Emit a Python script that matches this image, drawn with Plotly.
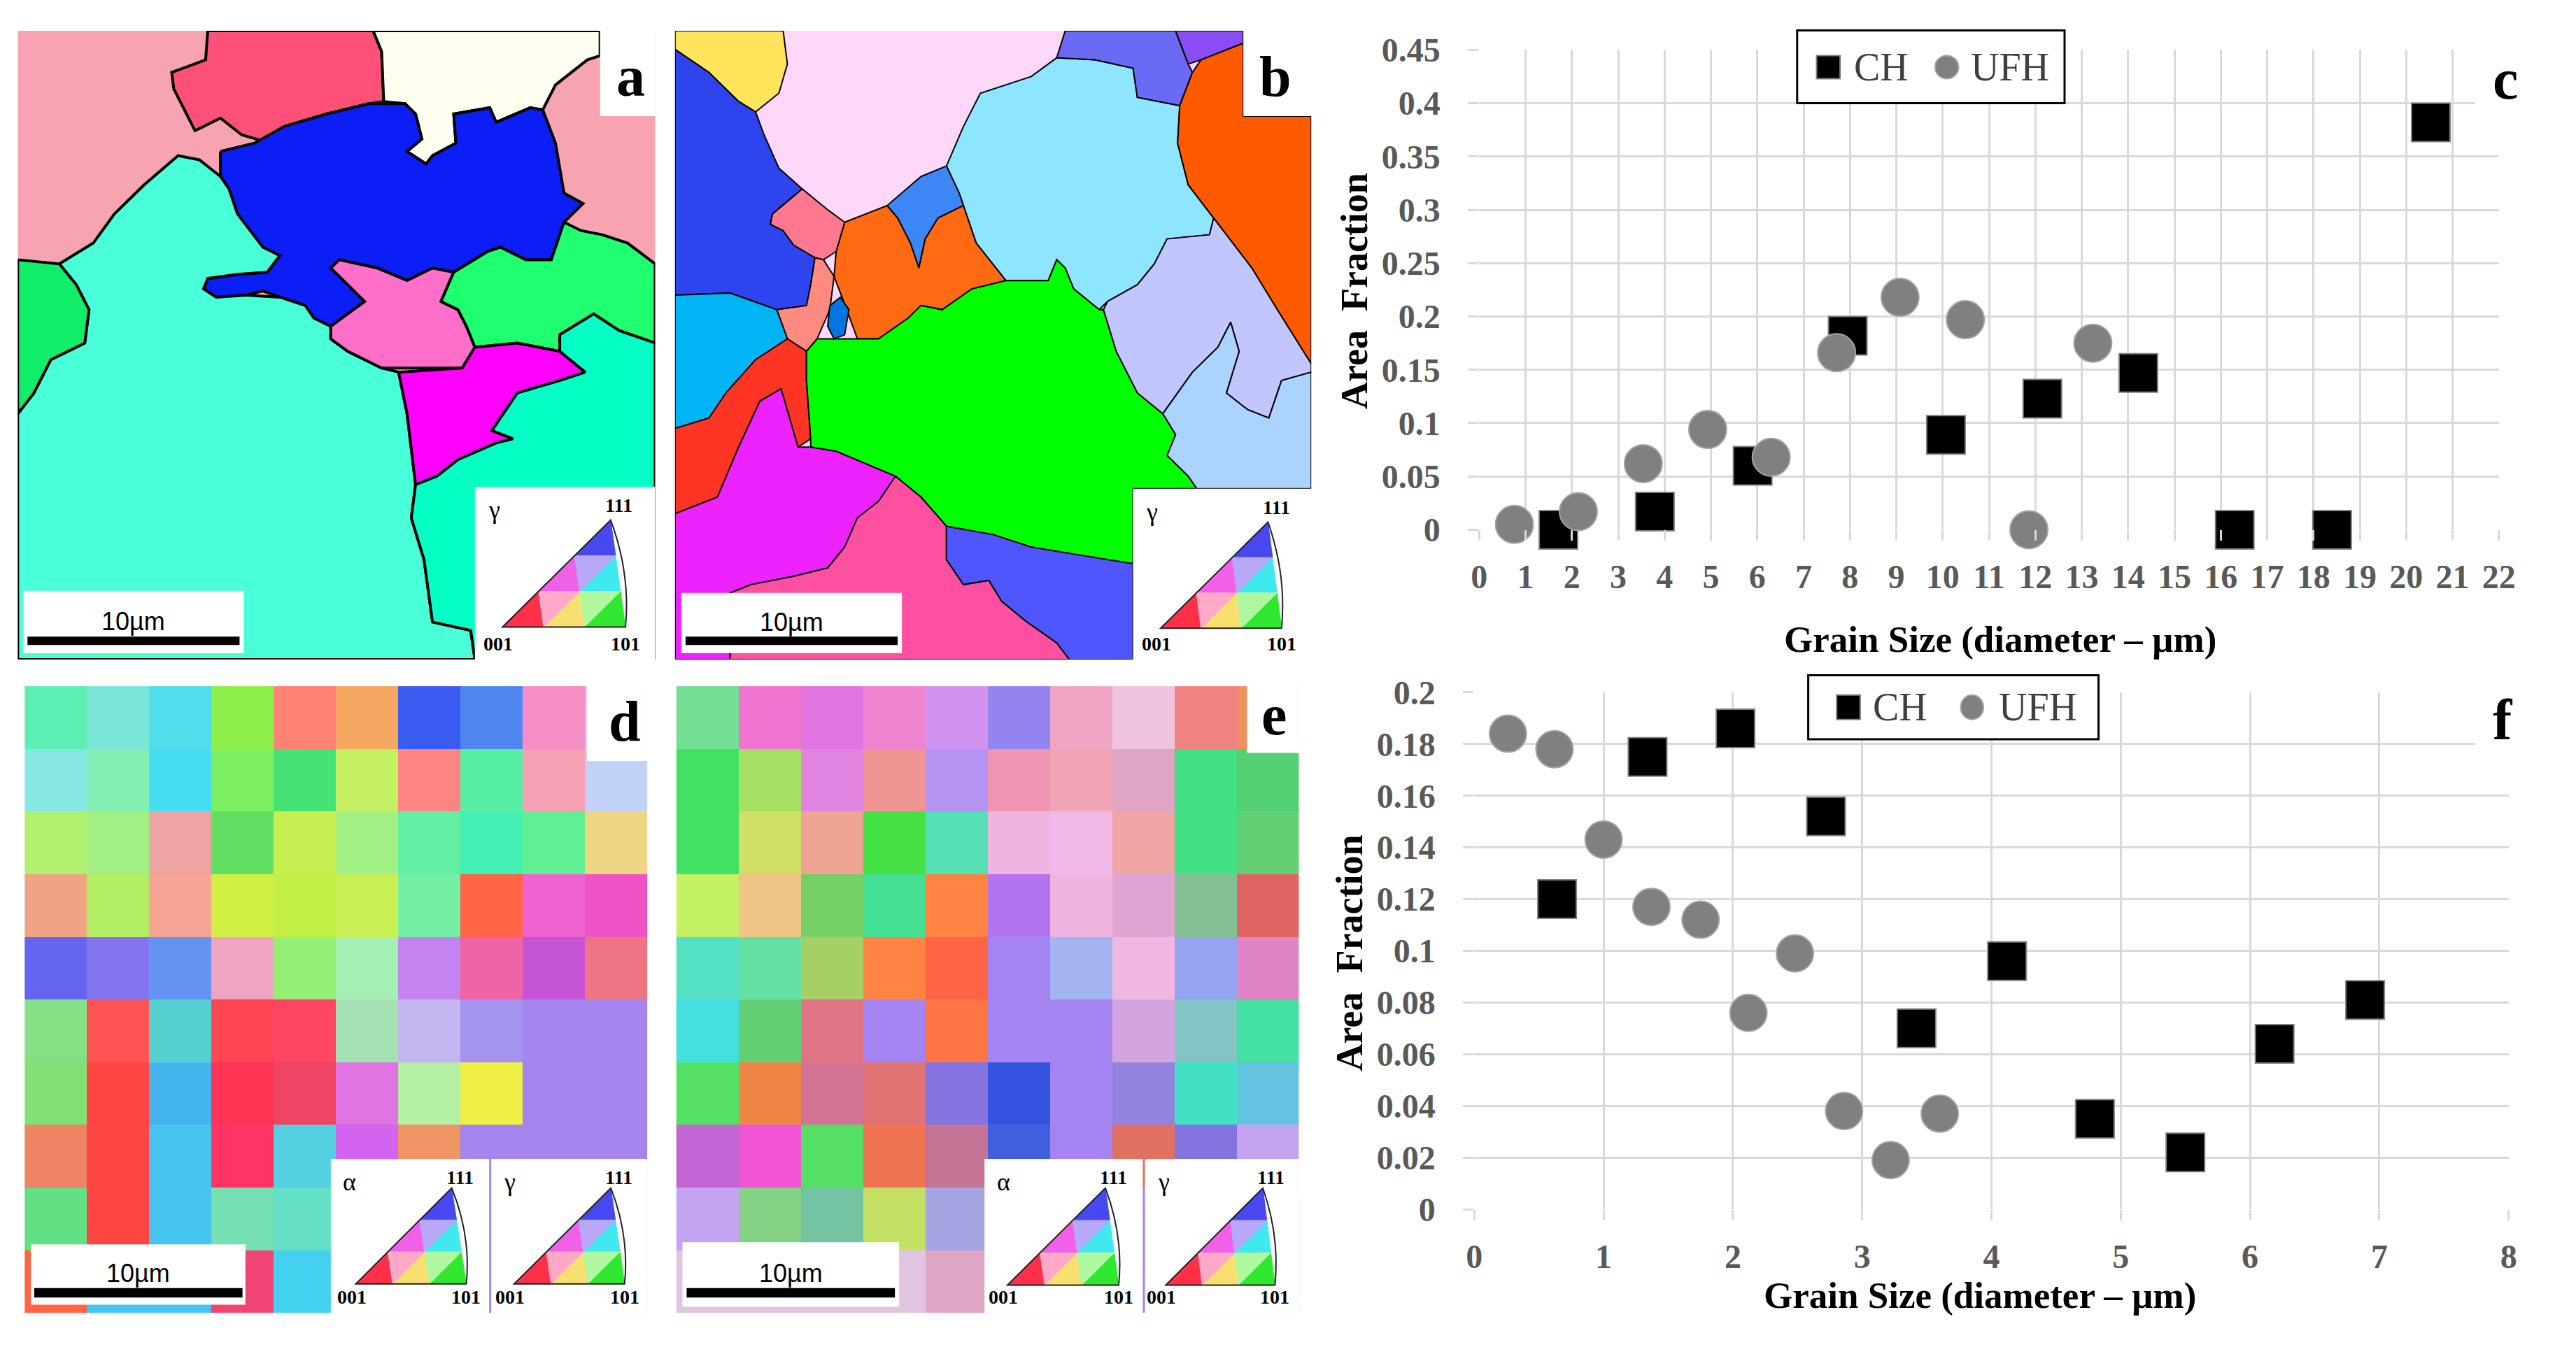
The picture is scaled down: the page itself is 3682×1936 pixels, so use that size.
import plotly.graph_objects as go

W, H = 3682, 1936

# ---------------- panel c : grain size distribution, CH vs UFH ----------------
c_xticks = list(range(0, 23))
c_yticks = [0, 0.05, 0.1, 0.15, 0.2, 0.25, 0.3, 0.35, 0.4, 0.45]
c_ytext = ["0", "0.05", "0.1", "0.15", "0.2", "0.25", "0.3", "0.35", "0.4", "0.45"]
c_ch_x = [1.71, 3.79, 5.9, 7.95, 10.07, 12.15, 14.22, 16.3, 18.4, 20.53]
c_ch_y = [0.0, 0.017, 0.060, 0.182, 0.089, 0.123, 0.147, 0.0, 0.0, 0.382]
c_ufh_x = [0.76, 2.14, 3.54, 4.93, 6.3, 7.71, 9.08, 10.49, 11.86, 13.24]
c_ufh_y = [0.005, 0.017, 0.062, 0.094, 0.068, 0.166, 0.218, 0.197, 0.0, 0.175]

# ---------------- panel f ----------------
f_xticks = list(range(0, 9))
f_yticks = [0, 0.02, 0.04, 0.06, 0.08, 0.1, 0.12, 0.14, 0.16, 0.18, 0.2]
f_ytext = ["0", "0.02", "0.04", "0.06", "0.08", "0.1", "0.12", "0.14", "0.16", "0.18", "0.2"]
f_ch_x = [0.64, 1.34, 2.02, 2.72, 3.42, 4.12, 4.80, 5.50, 6.19, 6.89]
f_ch_y = [0.120, 0.175, 0.186, 0.152, 0.070, 0.096, 0.035, 0.022, 0.064, 0.081]
f_ufh_x = [0.26, 0.62, 1.0, 1.37, 1.75, 2.12, 2.48, 2.86, 3.22, 3.60]
f_ufh_y = [0.184, 0.178, 0.143, 0.117, 0.112, 0.076, 0.099, 0.038, 0.019, 0.037]

# ---------------- panel a : coarse grain map (grain outlines in map units) ----------------
a_base = [(22, 30), (1525, 30), (1525, 1540), (22, 1540)]
a_red = [(470, 30), (860, 30), (880, 80), (885, 200), (850, 205), (750, 230), (650, 260), (600, 295),
         (550, 280), (500, 240), (440, 270), (410, 210), (390, 170), (385, 130), (465, 100)]
a_cream = [(860, 30), (1395, 30), (1395, 90), (1365, 100), (1290, 160), (1260, 220), (1230, 215),
           (1150, 250), (1135, 215), (1050, 230), (1055, 300), (1000, 330), (985, 350), (940, 320),
           (975, 290), (960, 230), (935, 205), (885, 200), (880, 80)]
a_blue = [(500, 320), (580, 300), (650, 260), (750, 230), (850, 205), (935, 205), (960, 230), (975, 290),
          (940, 320), (985, 350), (1000, 330), (1055, 300), (1050, 230), (1135, 215), (1150, 250),
          (1230, 215), (1260, 220), (1290, 300), (1310, 420), (1355, 445), (1310, 490), (1280, 580),
          (1220, 580), (1160, 550), (1130, 560), (1050, 610), (1000, 600), (940, 630), (870, 600),
          (780, 580), (760, 600), (840, 680), (800, 710), (760, 740), (720, 720), (700, 690), (640, 670),
          (600, 655), (560, 665), (490, 670), (460, 650), (470, 625), (540, 615), (610, 610), (640, 570),
          (600, 550), (540, 470), (520, 410), (500, 380)]
a_mint = [(22, 1540), (22, 950), (60, 900), (100, 820), (180, 780), (190, 700), (160, 640), (120, 590),
          (200, 540), (250, 470), (320, 400), (400, 330), (450, 340), (500, 380), (520, 410), (540, 470),
          (600, 550), (640, 570), (610, 610), (540, 615), (470, 625), (460, 650), (490, 670), (560, 665),
          (640, 670), (700, 690), (720, 720), (760, 740), (760, 770), (800, 800), (880, 840), (920, 850),
          (940, 950), (960, 1120), (950, 1200), (980, 1300), (1000, 1450), (1090, 1470), (1100, 1540)]
a_green_left = [(22, 580), (120, 590), (160, 640), (190, 700), (180, 780), (100, 820), (60, 900), (22, 950)]
a_pink = [(760, 600), (780, 580), (870, 600), (940, 630), (1000, 600), (1050, 610), (1020, 680), (1060, 700),
          (1080, 740), (1100, 790), (1070, 840), (920, 840), (880, 840), (800, 800), (760, 770), (760, 740),
          (800, 710), (840, 680)]
a_green_right = [(1020, 680), (1050, 610), (1130, 560), (1160, 550), (1220, 580), (1280, 580), (1310, 490),
                 (1350, 510), (1400, 520), (1460, 540), (1525, 590), (1525, 780), (1440, 750), (1380, 710),
                 (1300, 760), (1300, 800), (1200, 780), (1100, 790), (1080, 740), (1060, 700)]
a_magenta = [(920, 850), (1070, 840), (1100, 790), (1200, 780), (1300, 800), (1360, 850), (1300, 870),
             (1200, 900), (1140, 990), (1190, 1010), (1150, 1020), (1060, 1060), (1010, 1100), (960, 1120),
             (940, 950)]
a_mint_right = [(960, 1120), (1010, 1100), (1060, 1060), (1150, 1020), (1190, 1010), (1140, 990), (1200, 900),
                (1300, 870), (1360, 850), (1300, 800), (1300, 760), (1380, 710), (1440, 750), (1525, 780),
                (1525, 1540), (1100, 1540), (1090, 1470), (1000, 1450), (980, 1300), (950, 1200)]
a_grains = [(a_base, "#F8A3B0"), (a_red, "#FF5078"), (a_cream, "#FFFFF0"), (a_blue, "#0A1EF5"),
            (a_mint, "#48FFD8"), (a_green_left, "#10EE6A"), (a_pink, "#FF6EC8"),
            (a_green_right, "#20FF70"), (a_magenta, "#FF00FF"), (a_mint_right, "#05FFC5")]

# ---------------- panel b ----------------
b_base = [(20, 30), (1520, 30), (1520, 1540), (20, 1540)]
b_yellow = [(20, 30), (275, 30), (285, 110), (265, 180), (210, 225), (170, 200), (100, 130), (20, 75)]
b_blue = [(20, 75), (100, 130), (170, 200), (210, 225), (230, 280), (265, 360), (320, 410), (250, 470),
          (245, 495), (275, 510), (300, 545), (350, 575), (340, 640), (330, 690), (260, 700), (150, 660),
          (20, 665)]
b_cyan = [(660, 355), (700, 260), (740, 180), (800, 160), (860, 140), (920, 95), (1010, 100), (1100, 120),
          (1110, 190), (1210, 210), (1205, 300), (1230, 400), (1290, 480), (1280, 520), (1180, 530),
          (1150, 590), (1110, 640), (1040, 680), (1020, 700), (960, 650), (940, 600), (920, 580), (900, 630),
          (800, 630), (730, 540), (700, 450), (690, 420)]
b_violet = [(940, 30), (1200, 30), (1230, 110), (1240, 130), (1210, 210), (1110, 190), (1100, 120),
            (1010, 100), (920, 95)]
b_purple = [(1200, 30), (1360, 30), (1360, 60), (1260, 100), (1230, 110)]
b_orange = [(1260, 100), (1360, 60), (1360, 235), (1520, 235), (1520, 830), (1440, 700), (1380, 600),
            (1290, 480), (1230, 400), (1205, 300), (1210, 210), (1240, 130)]
b_lavender = [(1290, 480), (1380, 600), (1440, 700), (1520, 830), (1520, 850), (1450, 870), (1420, 960),
              (1370, 940), (1320, 900), (1350, 800), (1330, 730), (1300, 790), (1240, 850), (1170, 950),
              (1110, 900), (1060, 800), (1030, 700), (1040, 680), (1110, 640), (1150, 590), (1180, 530),
              (1280, 520)]
b_sky = [(1170, 950), (1240, 850), (1300, 790), (1330, 730), (1350, 800), (1320, 900), (1370, 940),
         (1420, 960), (1450, 870), (1520, 850), (1520, 1130), (1250, 1130), (1230, 1100), (1180, 1050),
         (1200, 1000)]
b_steel = [(520, 450), (600, 380), (660, 355), (690, 420), (700, 450), (640, 480), (610, 530), (595, 600),
           (575, 540), (545, 480)]
b_orange_mid = [(420, 490), (520, 450), (545, 480), (575, 540), (595, 600), (610, 530), (640, 480),
                (700, 450), (730, 540), (800, 630), (720, 650), (650, 700), (600, 690), (570, 720),
                (500, 770), (450, 770), (425, 700), (395, 620), (400, 560)]
b_salmon = [(250, 470), (320, 410), (380, 460), (420, 490), (400, 560), (370, 580), (350, 575), (300, 545),
            (275, 510), (245, 495)]
b_salmon2 = [(350, 575), (370, 580), (395, 620), (385, 700), (355, 770), (330, 800), (285, 770), (260, 700),
             (330, 690), (340, 640)]
b_azure = [(20, 665), (150, 660), (260, 700), (285, 770), (210, 820), (140, 900), (100, 960), (20, 985)]
b_red = [(20, 985), (100, 960), (140, 900), (210, 820), (285, 770), (330, 800), (330, 870), (340, 1010),
         (310, 1030), (270, 890), (220, 920), (170, 1030), (120, 1150), (20, 1190)]
b_green = [(330, 800), (355, 770), (450, 770), (500, 770), (570, 720), (600, 690), (650, 700), (720, 650),
           (800, 630), (900, 630), (920, 580), (940, 600), (960, 650), (1020, 700), (1030, 700), (1060, 800),
           (1110, 900), (1170, 950), (1200, 1000), (1180, 1050), (1230, 1100), (1250, 1130), (1100, 1130),
           (1100, 1310), (980, 1290), (860, 1270), (770, 1240), (660, 1220), (600, 1150), (540, 1100),
           (470, 1070), (400, 1040), (340, 1030), (340, 1010), (330, 870)]
b_magenta = [(20, 1190), (120, 1150), (170, 1030), (220, 920), (270, 890), (310, 1030), (340, 1030),
             (400, 1040), (470, 1070), (540, 1100), (500, 1160), (450, 1200), (420, 1270), (380, 1320),
             (300, 1340), (200, 1360), (150, 1380), (150, 1540), (20, 1540)]
b_rose = [(540, 1100), (600, 1150), (660, 1220), (660, 1300), (700, 1360), (760, 1350), (790, 1400),
          (850, 1450), (920, 1500), (950, 1540), (150, 1540), (150, 1380), (200, 1360), (300, 1340),
          (380, 1320), (420, 1270), (450, 1200), (500, 1160)]
b_indigo = [(660, 1220), (770, 1240), (860, 1270), (980, 1290), (1100, 1310), (1100, 1540), (950, 1540),
            (920, 1500), (850, 1450), (790, 1400), (760, 1350), (700, 1360), (660, 1300)]
b_small_blue = [(385, 690), (410, 670), (430, 700), (420, 760), (395, 770), (380, 740)]
b_grains = [(b_base, "#FFD7F8"), (b_yellow, "#FFE45C"), (b_blue, "#2E44EE"), (b_cyan, "#8DE5FF"),
            (b_violet, "#6A6AF5"), (b_purple, "#8A4CF5"), (b_orange, "#FF5A00"), (b_lavender, "#C2C6FF"),
            (b_sky, "#AAD4FF"), (b_steel, "#3C86F5"), (b_orange_mid, "#FF6A12"), (b_salmon, "#FF7890"),
            (b_salmon2, "#FF8A80"), (b_azure, "#00B4F5"), (b_red, "#FF3424"), (b_green, "#00FF00"),
            (b_magenta, "#EE22FF"), (b_rose, "#FF4FA0"), (b_indigo, "#5056FF"), (b_small_blue, "#0077E0")]

# ---------------- panel d : fine duplex map, dominant colour per block ----------------
d_rows = [
    ["#5EEFB4", "#7AE6D8", "#52DDEB", "#8FEF4A", "#FF8274", "#F6A862", "#3A5CF0", "#4F86F0", "#F58EC4", "#C8D4F6"],
    ["#86E6E2", "#84EFB4", "#44DEF0", "#7CEF62", "#46E274", "#C6F064", "#FF8484", "#56EFA4", "#F6A2B4", "#C0D0F6"],
    ["#B2F070", "#A2EF84", "#EFA4A4", "#62DE62", "#C6F052", "#A2EF84", "#62EFA4", "#44EFB4", "#62EF94", "#EFD484"],
    ["#EFA484", "#B2EF62", "#F6A494", "#D0EF44", "#C2EF44", "#C8F054", "#74EFA4", "#FF6444", "#EF62D0", "#EF52C2"],
    ["#6464EF", "#8474EF", "#6494EF", "#EFA4C4", "#94EF74", "#A4EFB4", "#C484EF", "#EF64A4", "#C454D4", "#EF7484"],
    ["#84E084", "#FF5454", "#54D0D0", "#FF4454", "#FF4464", "#A4E0B4", "#C4B4EF", "#A494EF", "#A484EF", "#A484EF"],
    ["#84E074", "#FF4444", "#44B4EF", "#FF3454", "#EF4464", "#E074E0", "#B4EFA4", "#EFEF44", "#A484EF", "#A484EF"],
    ["#EF8464", "#FF4444", "#44C4EF", "#FF3464", "#54D0E0", "#D464EF", "#EF9464", "#A484EF", "#A484EF", "#A484EF"],
    ["#64E084", "#FF4444", "#44C4EF", "#74E0B4", "#64E0C4", "#D464EF", "#A484EF", "#A484EF", "#A484EF", "#A484EF"],
    ["#FF6444", "#44C4EF", "#44C4EF", "#EF4474", "#44D0EF", "#A484EF", "#A484EF", "#A484EF", "#A484EF", "#A484EF"],
]

# ---------------- panel e ----------------
e_rows = [
    ["#74E094", "#F074D0", "#E074E0", "#F084D0", "#D094F0", "#9484F0", "#F0A4C4", "#F0C4E0", "#F08484", "#F09060"],
    ["#44E064", "#A4E064", "#E084E0", "#F09494", "#B494F0", "#F094B4", "#F0A4B4", "#E0A4C4", "#44E084", "#54D074"],
    ["#44E064", "#D0E064", "#F0A494", "#44E044", "#54E0B4", "#F0B4E0", "#F0B8E8", "#F0A4A4", "#44E084", "#64D074"],
    ["#C4F064", "#F0C484", "#74D064", "#44E094", "#FF8444", "#B474F0", "#F0B4E0", "#E0A4D4", "#84C094", "#E06464"],
    ["#54E0C4", "#64E0A4", "#A4D064", "#FF8444", "#FF6444", "#A484F0", "#A4B4F0", "#F0B8E0", "#94A4F0", "#E084C4"],
    ["#44E0E0", "#64D074", "#E07484", "#A484F0", "#FF7444", "#A484F0", "#A484F0", "#D4A4E0", "#84C4C4", "#44E0A4"],
    ["#54E064", "#F08444", "#D47494", "#E07474", "#8474E0", "#3454E0", "#A484F0", "#9484E0", "#44E0C4", "#64C4E0"],
    ["#C464D4", "#F054D4", "#54E064", "#F07454", "#C47494", "#4060E0", "#A484F0", "#E07060", "#8474E0", "#C4A4F0"],
    ["#C4A4F0", "#84D084", "#74C4A4", "#C4E064", "#A4A4E0", "#A484F0", "#A484F0", "#A484F0", "#A484F0", "#A484F0"],
    ["#E0C4E0", "#E0C4E0", "#E0C4E0", "#E0C4E0", "#E0A4C4", "#A484F0", "#A484F0", "#A484F0", "#A484F0", "#A484F0"],
]

# IPF colour key sub-triangle colours
key_colors = ["#FF3048", "#F8E070", "#F060E8", "#30E830", "#40E8F0", "#4848F0", "#FFA8C8", "#B0F8A0", "#B8A8F8"]

SERIF = "Liberation Serif"
SANS = "Liberation Sans"
GRID = "#D9D9D9"


def hex_rgb(h):
    return [int(h[1:3], 16), int(h[3:5], 16), int(h[5:7], 16)]


def poly(pts, color, xa, ya, lw):
    xs = [p[0] for p in pts] + [pts[0][0]]
    ys = [p[1] for p in pts] + [pts[0][1]]
    return go.Scatter(x=xs, y=ys, mode="lines", fill="toself", fillcolor=color,
                      line=dict(color="black", width=lw), xaxis=xa, yaxis=ya,
                      hoverinfo="skip", showlegend=False)


fig = go.Figure()

for pts, col in a_grains:
    fig.add_trace(poly(pts, col, "x3", "y3", 0 if pts is a_base else 4))
for pts, col in b_grains:
    fig.add_trace(poly(pts, col, "x4", "y4", 0 if pts is b_base else 2))

# duplex maps as block images
for rows, xa, ya, x0, x1, y0, y1 in [(d_rows, "x5", "y5", 25, 1520, 10, 1515),
                                       (e_rows, "x6", "y6", 10, 1505, 10, 1515)]:
    dx = (x1 - x0) / len(rows[0])
    dy = (y1 - y0) / len(rows)
    fig.add_trace(go.Image(z=[[hex_rgb(c) for c in r] for r in rows], x0=x0 + dx / 2, dx=dx,
                           y0=y0 + dy / 2, dy=dy, xaxis=xa, yaxis=ya, hoverinfo="skip"))

# scatter panels
fig.add_trace(go.Scatter(x=c_ch_x, y=c_ch_y, mode="markers", name="CH", cliponaxis=False,
                         marker=dict(symbol="square", size=55, color="black", line=dict(color="#7F7F7F", width=2)),
                         xaxis="x", yaxis="y", showlegend=False))
fig.add_trace(go.Scatter(x=c_ufh_x, y=c_ufh_y, mode="markers", name="UFH", cliponaxis=False,
                         marker=dict(symbol="circle", size=54, color="#808080", line=dict(color="#A6A6A6", width=2)),
                         xaxis="x", yaxis="y", showlegend=False))
fig.add_trace(go.Scatter(x=f_ch_x, y=f_ch_y, mode="markers", name="CH", cliponaxis=False,
                         marker=dict(symbol="square", size=55, color="black", line=dict(color="#7F7F7F", width=2)),
                         xaxis="x2", yaxis="y2", showlegend=False))
fig.add_trace(go.Scatter(x=f_ufh_x, y=f_ufh_y, mode="markers", name="UFH", cliponaxis=False,
                         marker=dict(symbol="circle", size=53, color="#808080", line=dict(color="#A6A6A6", width=2)),
                         xaxis="x2", yaxis="y2", showlegend=False))


def px(v):
    return v / W


def py(v):
    return 1 - v / H


tick_font = dict(family=SERIF, size=48, color="#595959", weight="bold")


def chart_axes(xdom, ydom, xr, yr, xt, yt, ytext, anchor_x, anchor_y):
    xa = dict(domain=[px(xdom[0]), px(xdom[1])], range=xr, tickvals=xt, ticktext=[str(v) for v in xt],
              showgrid=True, gridcolor=GRID, gridwidth=3, zeroline=False, showline=False,
              ticks="outside", ticklen=15, tickwidth=3, tickcolor=GRID, tickfont=tick_font,
              ticklabelstandoff=10, anchor=anchor_y, fixedrange=True)
    ya = dict(domain=[py(ydom[1]), py(ydom[0])], range=yr, tickvals=yt, ticktext=ytext,
              showgrid=True, gridcolor=GRID, gridwidth=3, zeroline=False, showline=False,
              ticks="outside", ticklen=15, tickwidth=3, tickcolor=GRID, tickfont=tick_font,
              ticklabelstandoff=30, anchor=anchor_x, fixedrange=True)
    return xa, ya


xa1, ya1 = chart_axes((2123, 3595), (46.7, 752), [0, 22], [0, 0.45], c_xticks, c_yticks, c_ytext, "x", "y")
xa2, ya2 = chart_axes((2116, 3609), (991, 1751), [0, 8], [0, 0.2], f_xticks, f_yticks, f_ytext, "x2", "y2")


def map_axes(xdom, ydom, xr, yr, ax_x, ax_y):
    xa = dict(domain=[px(xdom[0]), px(xdom[1])], range=xr, visible=False, anchor=ax_y, fixedrange=True)
    ya = dict(domain=[py(ydom[1]), py(ydom[0])], range=yr, visible=False, anchor=ax_x, fixedrange=True)
    return xa, ya


xa3, ya3 = map_axes((13.5, 933.6), (18.4, 942.8), [22, 1525], [1540, 30], "x3", "y3")
xa4, ya4 = map_axes((962.2, 1880.6), (18.4, 942.8), [20, 1520], [1540, 30], "x4", "y4")
xa5, ya5 = map_axes((15.3, 930.6), (982, 1903.5), [25, 1520], [1515, 10], "x5", "y5")
xa6, ya6 = map_axes((956, 1871), (982, 1903.5), [10, 1505], [1515, 10], "x6", "y6")

shapes = []
annotations = []


def rect(ref, x0, y0, x1, y1, fill="white", lc=None, lw=0):
    shapes.append(dict(type="rect", xref=ref[0], yref=ref[1], x0=x0, y0=y0, x1=x1, y1=y1,
                       fillcolor=fill, line=dict(color=lc or fill, width=lw), layer="above"))


def text(ref, x, y, s, size, family=SERIF, weight="bold", color="black", angle=0):
    annotations.append(dict(xref=ref[0], yref=ref[1], x=x, y=y, text=s, showarrow=False, textangle=angle,
                            xanchor="center", yanchor="middle",
                            font=dict(family=family, size=size, color=color, weight=weight)))


def ipf_key(ref, A, B, C, label, box):
    rect(ref, *box)
    n = 3

    def P(i, j):
        return (A[0] + i / n * (B[0] - A[0]) + j / n * (C[0] - B[0]),
                A[1] + i / n * (B[1] - A[1]) + j / n * (C[1] - B[1]))
    tris = [((0, 0), (1, 0), (1, 1)), ((1, 0), (2, 0), (2, 1)), ((1, 1), (2, 1), (2, 2)),
            ((2, 0), (3, 0), (3, 1)), ((2, 1), (3, 1), (3, 2)), ((2, 2), (3, 2), (3, 3)),
            ((1, 0), (2, 1), (1, 1)), ((2, 0), (3, 1), (2, 1)), ((2, 1), (3, 2), (2, 2))]
    for t, col in zip(tris, key_colors):
        p = [P(*v) for v in t]
        path = "M {} {} L {} {} L {} {} Z".format(p[0][0], p[0][1], p[1][0], p[1][1], p[2][0], p[2][1])
        shapes.append(dict(type="path", xref=ref[0], yref=ref[1], path=path, fillcolor=col,
                           line=dict(color=col, width=1), layer="above"))
    path = "M {} {} L {} {} Q {} {} {} {} Z".format(A[0], A[1], B[0], B[1], B[0] + 12,
                                                   (B[1] + C[1]) / 2, C[0], C[1])
    shapes.append(dict(type="path", xref=ref[0], yref=ref[1], path=path, line=dict(color="#202020", width=2),
                       layer="above"))
    text(ref, box[0] + 45, box[1] + 55, label, 36, family=SERIF, weight="normal")
    text(ref, C[0] + 20, box[1] + 45, "111", 28)
    text(ref, A[0] - 10, box[3] - 38, "001", 28)
    text(ref, B[0], box[3] - 38, "101", 28)


def scale_bar(ref, box, bar, lab):
    rect(ref, *box)
    rect(ref, *bar, fill="black")
    text(ref, (bar[0] + bar[2]) / 2, lab, "10µm", 36, family=SANS, weight="normal")


# panel a decorations
ra = ("x3", "y3")
rect(ra, 1395, 30, 1525, 235)
text(ra, 1468, 140, "a", 82)
ipf_key(ra, (1165, 1462), (1455, 1462), (1420, 1205), "γ", (1100, 1125, 1525, 1540))
scale_bar(ra, (35, 1375, 555, 1525), (45, 1485, 545, 1505), 1448)

rb = ("x4", "y4")
rect(rb, 1360, 30, 1520, 235)
text(rb, 1435, 140, "b", 82)
ipf_key(rb, (1165, 1465), (1450, 1465), (1418, 1210), "γ", (1100, 1130, 1520, 1540))
scale_bar(rb, (35, 1380, 555, 1525), (45, 1485, 545, 1505), 1450)

rd = ("x5", "y5")
rect(rd, 1375, 10, 1520, 190)
text(rd, 1465, 95, "d", 82)
ipf_key(rd, (820, 1445), (1085, 1445), (1050, 1215), "α", (760, 1145, 1140, 1515))
ipf_key(rd, (1200, 1445), (1465, 1445), (1432, 1215), "γ", (1145, 1145, 1520, 1515))
scale_bar(rd, (40, 1350, 555, 1495), (48, 1455, 548, 1478), 1420)

re_ = ("x6", "y6")
rect(re_, 1380, 10, 1505, 170)
text(re_, 1445, 80, "e", 82)
ipf_key(re_, (805, 1448), (1072, 1448), (1040, 1215), "α", (750, 1145, 1130, 1515))
ipf_key(re_, (1185, 1448), (1447, 1448), (1418, 1215), "γ", (1135, 1145, 1505, 1515))
scale_bar(re_, (25, 1345, 545, 1500), (35, 1455, 535, 1478), 1420)

# chart c/f labels, titles and legend boxes (paper pixel positions)
pp = ("paper", "paper")
rect(pp, px(3560), py(143), px(W), py(0))
text(pp, px(3604), py(90), "c", 82)
rect(pp, px(3560), py(1091), px(W), py(1000))
text(pp, px(3601), py(1032), "f", 82)

text(pp, px(2875), py(914), "Grain Size (diameter – µm)", 53)
text(pp, px(1943), py(401), "Area  Fraction", 54, angle=-90)
text(pp, px(2846), py(1878), "Grain Size (diameter – µm)", 53)
text(pp, px(1936), py(1374), "Area  Fraction", 54, angle=-90)

for box, sq, ci, ch, ufh in [((2582, 18, 2968, 125), (2610, 55, 2644, 89), (2781, 55, 2815, 89), (2703, 72), (2889, 72)),
                             ((2598, 966, 3017, 1060), (2639, 995, 2673, 1031), (2818, 995, 2851, 1031), (2731, 1013), (2930, 1013))]:
    shapes.append(dict(type="rect", xref="paper", yref="paper", x0=px(box[0]), x1=px(box[2]),
                       y0=py(box[3]), y1=py(box[1]), fillcolor="white", line=dict(color="black", width=3),
                       layer="above"))
    shapes.append(dict(type="rect", xref="paper", yref="paper", x0=px(sq[0]), x1=px(sq[2]),
                       y0=py(sq[3]), y1=py(sq[1]), fillcolor="black", line=dict(color="#7F7F7F", width=2),
                       layer="above"))
    shapes.append(dict(type="circle", xref="paper", yref="paper", x0=px(ci[0]), x1=px(ci[2]),
                       y0=py(ci[3]), y1=py(ci[1]), fillcolor="#808080", line=dict(color="#A6A6A6", width=2),
                       layer="above"))
    text(pp, px(ch[0]), py(ch[1]), "CH", 56, color="#3F3F3F", weight="normal")
    text(pp, px(ufh[0]), py(ufh[1]), "UFH", 56, color="#3F3F3F", weight="normal")

fig.update_layout(
    width=W, height=H, margin=dict(l=0, r=0, t=0, b=0),
    paper_bgcolor="white", plot_bgcolor="white", showlegend=False,
    xaxis=xa1, yaxis=ya1, xaxis2=xa2, yaxis2=ya2,
    xaxis3=xa3, yaxis3=ya3, xaxis4=xa4, yaxis4=ya4,
    xaxis5=xa5, yaxis5=ya5, xaxis6=xa6, yaxis6=ya6,
    shapes=shapes, annotations=annotations,
)

fig.write_html("out.html", config={"displayModeBar": False},
               post_script="document.body.style.margin='0';")
